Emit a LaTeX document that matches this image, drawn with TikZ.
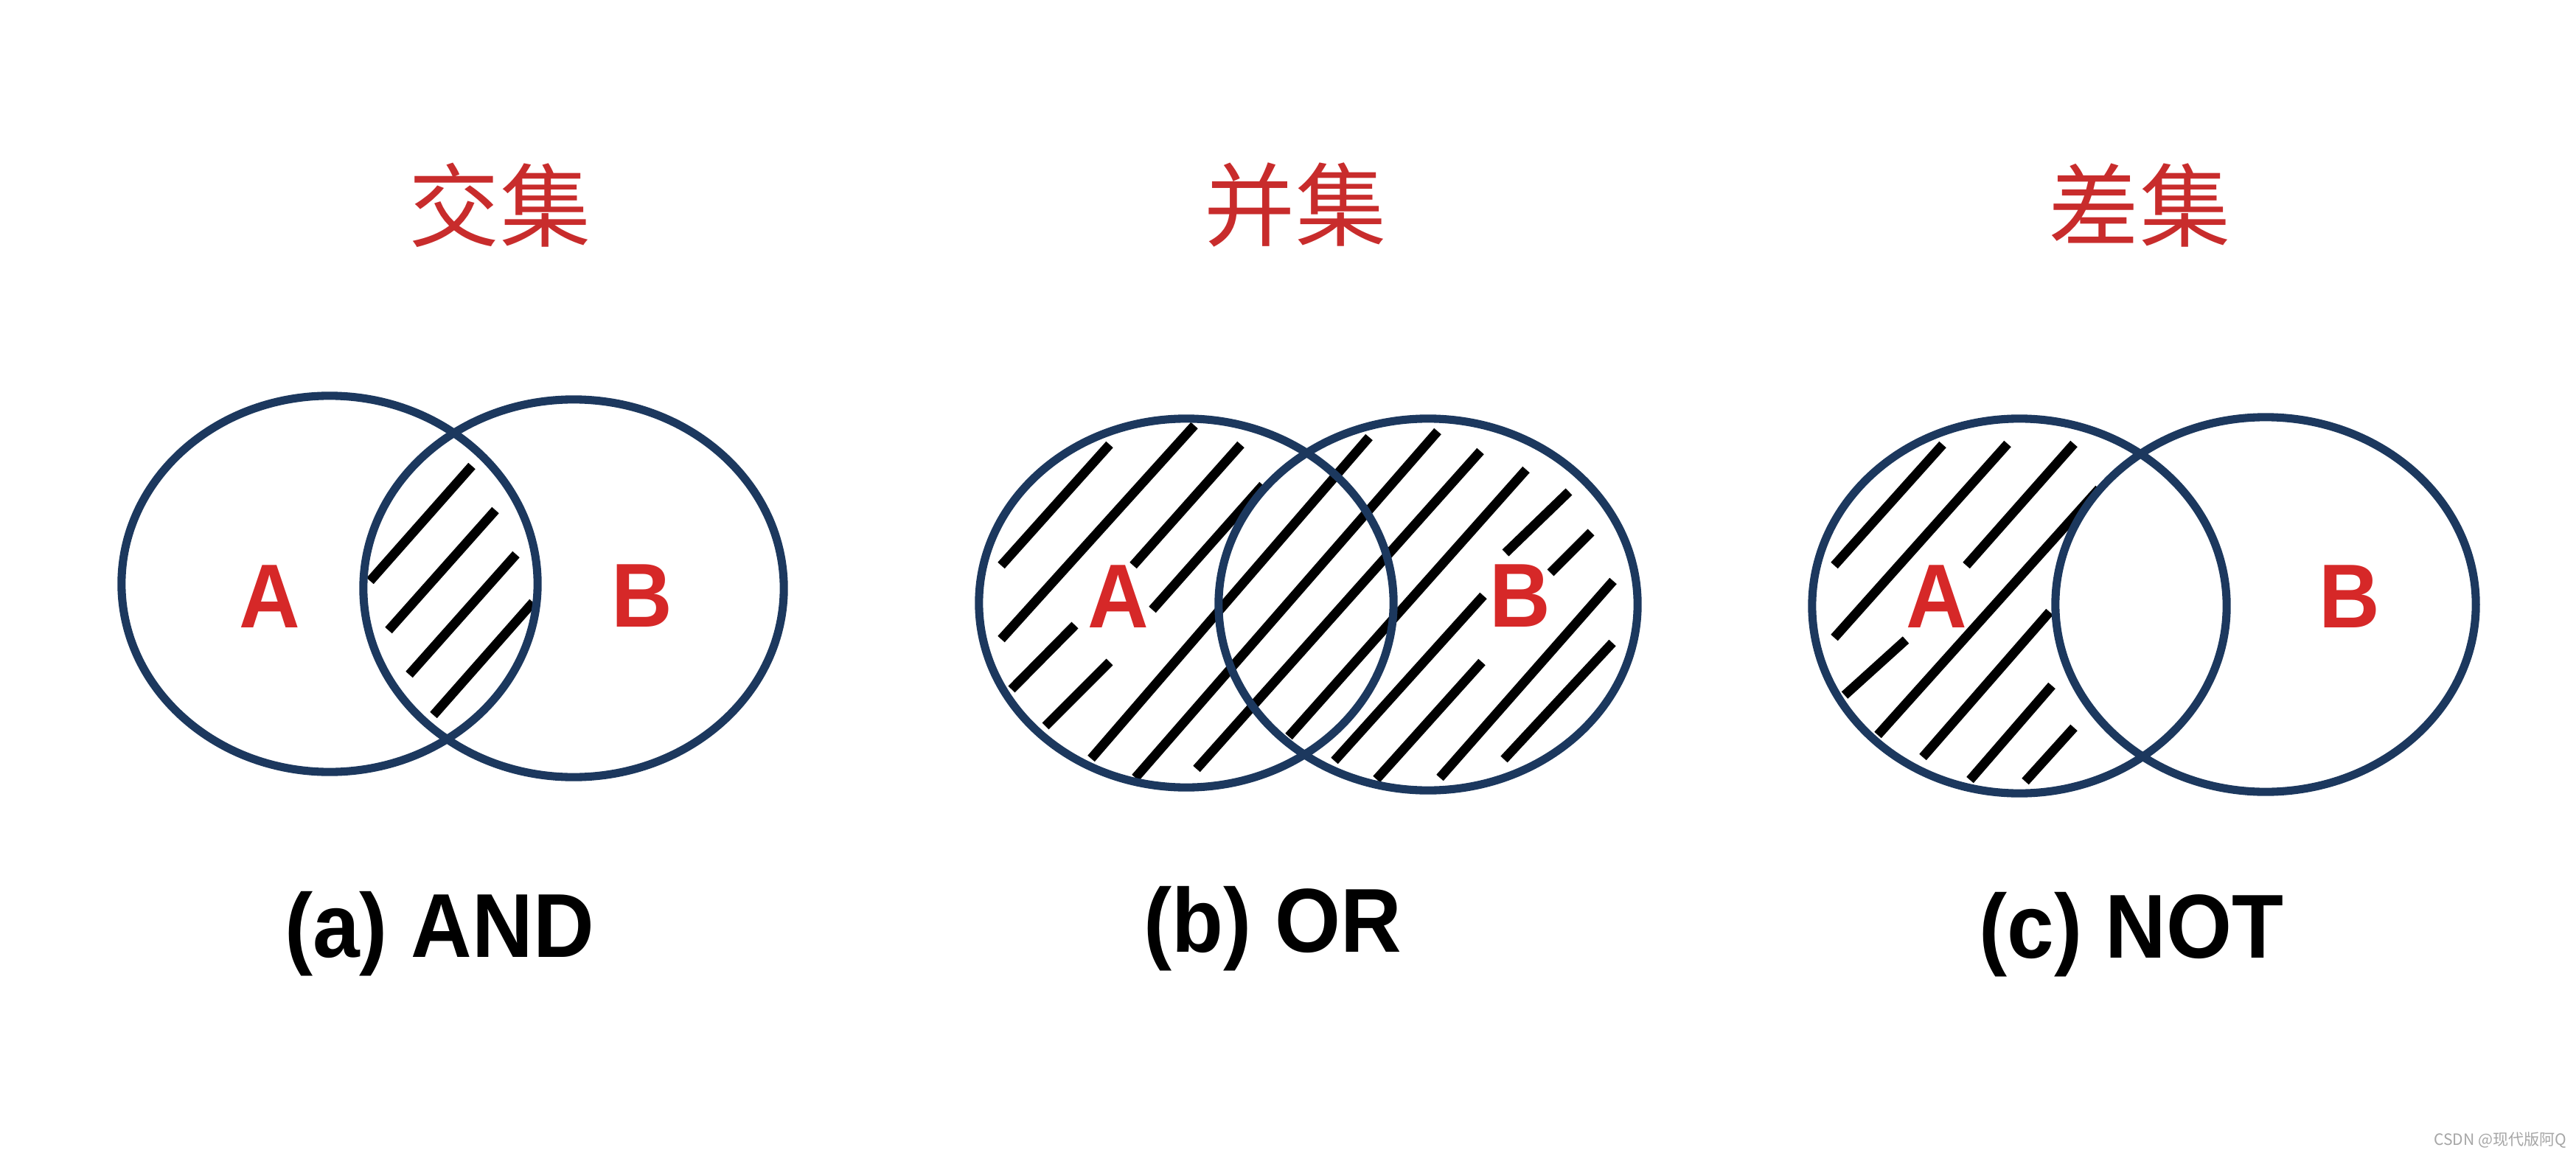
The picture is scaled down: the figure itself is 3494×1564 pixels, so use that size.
\documentclass[tikz,border=0pt]{standalone}
\usepackage{fontspec}
\setmainfont{Liberation Sans}
\newfontfamily\lblfont[FakeStretch=0.93]{Liberation Sans}
\newfontfamily\cjkfont{Noto Sans CJK SC}
\definecolor{navy}{RGB}{28,56,94}
\definecolor{lblred}{RGB}{214,40,40}
\definecolor{ttlred}{RGB}{200,44,44}
\begin{document}
\begin{tikzpicture}[x=0.01cm,y=-0.01cm,
  venn/.style={draw=navy,line width=3.15pt},
  hatch/.style={draw=black,line width=3.6pt},
  setlbl/.style={text=lblred,font=\lblfont\bfseries\fontsize{35}{40}\selectfont,anchor=base,inner sep=0pt},
  capt/.style={text=black,font=\lblfont\bfseries\fontsize{35}{40}\selectfont,anchor=base,inner sep=0pt},
  ttl/.style={text=ttlred,font=\cjkfont\fontsize{35}{40}\selectfont,inner sep=0pt},
]
\fill[white] (0,0) rectangle (3494,1564);
\path[use as bounding box] (0,0) rectangle (3494,1564);

% ---------- titles ----------
\node[ttl] (t1) at (678,278) {交集};
\node[ttl] (t2) at (1757,278) {并集};
\node[ttl] (t3) at (2902,278) {差集};

% ---------- (a) AND hatching ----------
\draw[hatch] (502,788) -- (640,632);
\draw[hatch] (527,855) -- (672,692);
\draw[hatch] (555,915) -- (700,752);
\draw[hatch] (588,970) -- (723,817);

% ---------- (b) OR hatching ----------
\draw[hatch] (1358,767) -- (1505,603);
\draw[hatch] (1358,867) -- (1620,577);
\draw[hatch] (1372,935) -- (1458,848);
\draw[hatch] (1537,767) -- (1683,603);
\draw[hatch] (1418,985) -- (1505,898);
\draw[hatch] (1563,827) -- (1713,658);
\draw[hatch] (1480,1029) -- (1857,593);
\draw[hatch] (1540,1055) -- (1950,585);
\draw[hatch] (1623,1043) -- (2008,612);
\draw[hatch] (1748,999) -- (2070,637);
\draw[hatch] (1810,1032) -- (2012,808);
\draw[hatch] (2042,750) -- (2128,667);
\draw[hatch] (1867,1057) -- (2010,898);
\draw[hatch] (2103,777) -- (2158,722);
\draw[hatch] (1953,1055) -- (2188,788);
\draw[hatch] (2040,1030) -- (2187,872);

% ---------- (c) NOT hatching ----------
\draw[hatch] (2488,767) -- (2635,603);
\draw[hatch] (2488,865) -- (2723,602);
\draw[hatch] (2502,943) -- (2585,868);
\draw[hatch] (2667,767) -- (2813,602);
\draw[hatch] (2547,997) -- (2847,663);
\draw[hatch] (2608,1027) -- (2780,830);
\draw[hatch] (2672,1058) -- (2783,930);
\draw[hatch] (2747,1060) -- (2813,987);

% ---------- ellipses ----------
\draw[venn] (447,792) ellipse [x radius=2.82cm, y radius=2.55cm];
\draw[venn] (778,798) ellipse [x radius=2.85cm, y radius=2.56cm];
\draw[venn] (1609,818) ellipse [x radius=2.81cm, y radius=2.50cm];
\draw[venn] (1937,820) ellipse [x radius=2.84cm, y radius=2.52cm];
\draw[venn] (2739,822) ellipse [x radius=2.81cm, y radius=2.54cm];
\draw[venn] (3073,820) ellipse [x radius=2.85cm, y radius=2.54cm];

% ---------- set labels ----------
\node[setlbl] (aA) at (366,851) {A};
\node[setlbl] (aB) at (871,850) {B};
\node[setlbl] (bA) at (1517,851) {A};
\node[setlbl] (bB) at (2062,850) {B};
\node[setlbl] (cA) at (2627,851) {A};
\node[setlbl] (cB) at (3187,851) {B};

% ---------- captions ----------
\node[capt] (ca) at (596,1298) {(a) AND};
\node[capt] (cb) at (1726,1291) {(b) OR};
\node[capt] (cc) at (2891,1299) {(c) NOT};

% ---------- watermark ----------
\node[font=\cjkfont\fontsize{6}{7}\selectfont,text=black!35,anchor=base east,inner sep=0pt] (wm) at (3482,1553) {CSDN @现代版阿Q};
\end{tikzpicture}
\end{document}
